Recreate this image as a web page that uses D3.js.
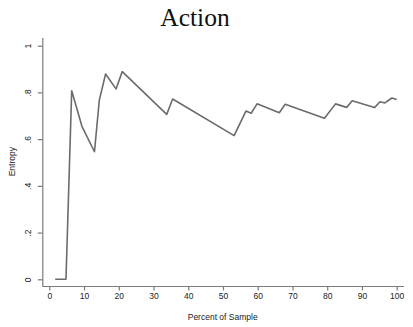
<!DOCTYPE html>
<html><head><meta charset="utf-8">
<script src="https://cdn.jsdelivr.net/npm/d3@7"></script>
<style>body{margin:0;background:#fff}</style>
</head><body>
<svg id="c" width="413" height="327"></svg>
<script>
const percent = [1.7, 4.8, 6.45, 9.4, 13.0, 14.4, 16.2, 19.2, 21.0, 33.8, 35.5, 53.2, 56.6, 58.1, 59.8, 66.2, 67.9, 79.2, 82.4, 85.6, 87.2, 93.6, 95.2, 96.6, 98.6, 100];
const entropy = [0, 0, 0.807, 0.655, 0.546, 0.767, 0.879, 0.815, 0.889, 0.706, 0.772, 0.615, 0.72, 0.711, 0.751, 0.713, 0.749, 0.689, 0.751, 0.736, 0.764, 0.735, 0.760, 0.755, 0.776, 0.770];
const xTicks = [0,10,20,30,40,50,60,70,80,90,100];
const yTicks = [0,0.2,0.4,0.6,0.8,1];
const yTickLabels = ["0",".2",".4",".6",".8","1"];
const title = "Action", xTitle = "Percent of Sample", yTitle = "Entropy";

const svg = d3.select("#c");
const x = d3.scaleLinear().domain([0,100]).range([49.3,396.7]);
const y = d3.scaleLinear().domain([0,1]).range([279.3,45.7]);
const axisCol = "#7a7a7a", fontF = "'Liberation Sans', Arial, sans-serif";
const axX = 42.3, axY = 286;

// x axis
const gx = svg.append("g").attr("transform",`translate(0,${axY})`)
  .call(d3.axisBottom(x).tickValues(xTicks).tickSize(4.5).tickSizeOuter(0).tickPadding(2.5));
gx.select(".domain").attr("d",`M${axX},0.5H404`);
// y axis
const gy = svg.append("g").attr("transform",`translate(${axX},0)`)
  .call(d3.axisLeft(y).tickValues(yTicks).tickFormat((d,i)=>yTickLabels[i]).tickSize(4.5).tickSizeOuter(0).tickPadding(2));
gy.select(".domain").attr("d",`M0.5,38V${axY}`);
[gx,gy].forEach(g=>{
  g.selectAll("path,line").attr("stroke",axisCol).attr("stroke-width",1.2);
  g.selectAll("text").attr("fill","#222").style("font-family",fontF).style("font-size","8.5px");
});
gy.selectAll(".tick text").attr("transform",function(){
  const t=d3.select(this); return null;}).each(function(){
  const node=d3.select(this); const par=d3.select(this.parentNode);
  node.attr("x",null).attr("dy",null).attr("text-anchor","middle")
    .attr("transform","translate(-11.5,0) rotate(-90)").attr("dy","0");
});

// line
svg.append("path").datum(percent.map((p,i)=>[p,entropy[i]]))
  .attr("fill","none").attr("stroke","#6b6b6b").attr("stroke-width",1.6).attr("stroke-linejoin","round")
  .attr("d",d3.line().x(d=>x(d[0])).y(d=>y(d[1])));

// titles
svg.append("text").attr("x",195).attr("y",26).attr("text-anchor","middle")
  .style("font-family","'Liberation Serif','Times New Roman',serif").style("font-size","25.5px").attr("fill","#111").text(title);
svg.append("text").attr("x",222.7).attr("y",319.5).attr("text-anchor","middle")
  .style("font-family",fontF).style("font-size","8.5px").attr("fill","#222").text(xTitle);
svg.append("text").attr("transform","translate(14.5,161.7) rotate(-90)").attr("text-anchor","middle")
  .style("font-family",fontF).style("font-size","8.5px").attr("fill","#222").text(yTitle);
</script>
</body></html>
